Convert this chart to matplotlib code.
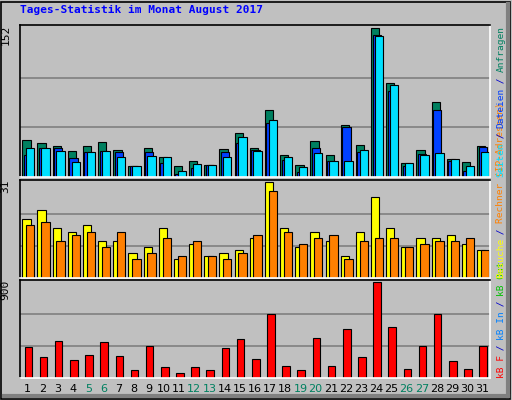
import matplotlib
matplotlib.use("Agg")
import matplotlib.pyplot as plt
import numpy as np

days = list(range(1, 32))
weekend = [5, 6, 12, 13, 19, 20, 26, 27]
hits = [38,35,32,27,32,36,28,11,30,20,11,16,12,29,45,30,68,22,12,37,22,53,33,152,96,14,28,76,18,15,32]
files = [22,30,30,19,26,27,26,11,26,14,3,9,12,26,35,28,55,17,5,30,16,51,26,145,88,11,23,68,16,6,31]
pages = [30,30,27,15,25,27,20,11,21,20,6,13,12,20,41,27,58,20,10,24,16,16,28,144,94,14,22,24,18,11,26]
visits = [19,22,16,15,17,12,12,8,10,16,6,11,7,8,9,13,31,16,10,15,12,7,15,26,16,10,13,13,14,11,9]
sites = [17,18,12,14,15,10,15,6,8,13,7,12,7,6,8,14,28,15,11,13,14,6,12,13,13,10,11,12,12,13,9]
kbytes = [289,200,348,171,220,338,210,72,299,102,43,102,72,279,368,181,604,112,72,378,112,457,200,900,476,82,299,604,161,82,299]

W, H = 512, 400
fig = plt.figure(figsize=(W/100, H/100), dpi=100, facecolor="#c0c0c0")
fig.add_artist(plt.Rectangle((1/W, 1/H), 1-3/W, 1-3/H, transform=fig.transFigure, fill=False, ec="black", lw=1.2))
fig.add_artist(plt.Line2D([4/W, 1-4/W], [4/H, 4/H], transform=fig.transFigure, color="#808080", lw=3))
fig.add_artist(plt.Line2D([1-4/W, 1-4/W], [4/H, 1-4/H], transform=fig.transFigure, color="#808080", lw=3))

def ax_px(x0, y0, x1, y1):
    return fig.add_axes([x0/W, 1-y1/H, (x1-x0)/W, (y1-y0)/H])

ec = "black"
def setup(ax, vmax, label):
    ax.set_facecolor("#c0c0c0")
    ax.set_xlim(0.5, 31.5)
    ax.set_ylim(0, vmax*1.02)
    for f in (1/3, 2/3):
        ax.axhline(vmax*f, color="#808080", lw=1.2, zorder=0)
    ax.set_xticks([]); ax.set_yticks([])
    for s in ax.spines.values():
        s.set_color("white"); s.set_linewidth(1.2)
    ax.spines["left"].set_color("black"); ax.spines["top"].set_color("black")
    ax.text(-0.02, 1.0, label, transform=ax.transAxes, rotation=90, ha="right", va="top",
            fontsize=8, family="DejaVu Sans Mono")

x = np.array(days)
a1 = ax_px(20, 25, 490, 177)
setup(a1, 152, "152")
a1.bar(x-0.35, hits, 0.55, align="edge", color="#008060", ec=ec, lw=0.8)
a1.bar(x-0.25, files, 0.55, align="edge", color="#0040ff", ec=ec, lw=0.8)
a1.bar(x-0.1, pages, 0.55, align="edge", color="#00e0ff", ec=ec, lw=0.8)

a2 = ax_px(20, 180, 490, 278)
setup(a2, 31, "31")
a2.bar(x-0.35, visits, 0.55, align="edge", color="#ffff00", ec=ec, lw=0.8)
a2.bar(x-0.1, sites, 0.55, align="edge", color="#ff8000", ec=ec, lw=0.8)

a3 = ax_px(20, 280, 490, 378)
setup(a3, 900, "900")
a3.bar(x-0.2, kbytes, 0.5, align="edge", color="#ff0000", ec=ec, lw=0.8)

for d in days:
    a3.text(d, -0.06, str(d), transform=a3.get_xaxis_transform(), ha="center", va="top",
            fontsize=8, color="#008060" if d in weekend else "black")

fig.text(20/W, 1-10/H, "Tages-Statistik im Monat August 2017", ha="left", va="center",
         fontsize=8, family="DejaVu Sans Mono", weight="bold", color="#0000ff")

cw = 5.5
def vlegend(y_bottom, parts):
    y = y_bottom
    for txt, col in parts:
        fig.text(501/W, 1-y/H, txt, rotation=90, ha="center", va="bottom", fontsize=6.8,
                 family="DejaVu Sans Mono", color=col)
        y -= cw*len(txt)

vlegend(378, [("kB F", "#ff0000"), (" / ", "#0000cc"), ("kB In", "#0080ff"), (" / ", "#0000cc"), ("kB Out", "#00c000")])
vlegend(278, [("Besuche", "#ffff00"), (" / ", "#0000cc"), ("Rechner (IP-Adressen)", "#ff8000")])
vlegend(177, [("Seiten", "#00e0ff"), (" / ", "#0000cc"), ("Dateien", "#0040ff"), (" / ", "#0000cc"), ("Anfragen", "#008060")])

fig.savefig("out.png", dpi=100, facecolor=fig.get_facecolor())
